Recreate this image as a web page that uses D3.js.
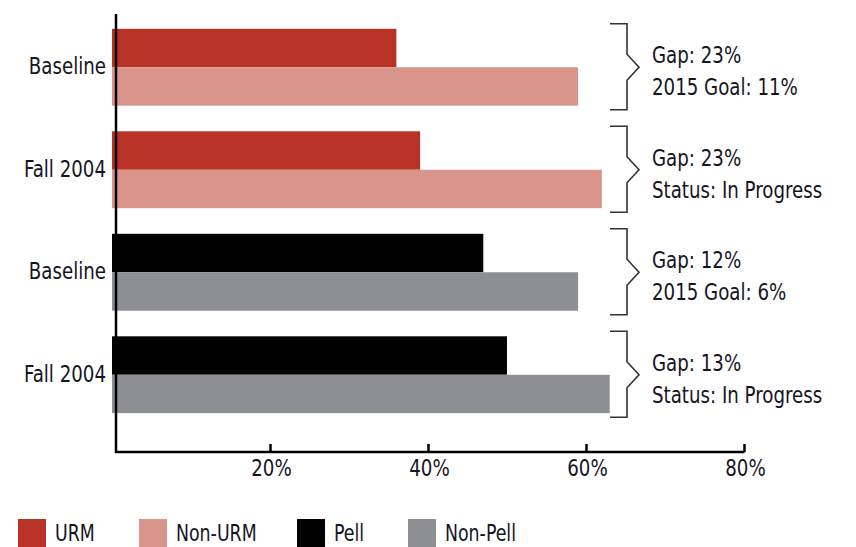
<!DOCTYPE html>
<html>
<head>
<meta charset="utf-8">
<script src="https://cdn.jsdelivr.net/npm/d3@7"></script>
<style>
  html, body { margin: 0; padding: 0; background: #fff; }
  svg text { font-family: "Liberation Sans Narrow", "Arial Narrow", "DejaVu Sans Condensed", sans-serif; fill: #15151f; }
</style>
</head>
<body>
<svg id="chart" width="856" height="547"></svg>
<script>
// ---- Data ----
const groupIds = ["g1", "g2", "g3", "g4"];
const groupLabels = ["Baseline", "Fall 2004", "Baseline", "Fall 2004"];
const topValues = [36, 39, 47, 50];      // URM, URM, Pell, Pell
const bottomValues = [59, 62, 59, 63];   // Non-URM, Non-URM, Non-Pell, Non-Pell
const topSeries = ["URM", "URM", "Pell", "Pell"];
const bottomSeries = ["Non-URM", "Non-URM", "Non-Pell", "Non-Pell"];
const gapLines = ["Gap: 23%", "Gap: 23%", "Gap: 12%", "Gap: 13%"];
const statusLines = ["2015 Goal: 11%", "Status: In Progress", "2015 Goal: 6%", "Status: In Progress"];
const tickValues = [20, 40, 60, 80];
const legendNames = ["URM", "Non-URM", "Pell", "Non-Pell"];
const legendColors = ["#b83226", "#d9958b", "#000000", "#8e8f93"];

// ---- Layout ----
const SX = 0.88; // horizontal condensing of text to mimic a condensed face
const svg = d3.select("#chart");
const color = d3.scaleOrdinal().domain(legendNames).range(legendColors);
const x = d3.scaleLinear().domain([0, 80]).range([112, 744]);
const y = d3.scaleBand().domain(groupIds).range([16, 426]).paddingInner(0.25).paddingOuter(0.125);
const bw = y.bandwidth();
const half = bw / 2;

const rows = groupIds.map((id, i) => ({
  id, label: groupLabels[i], top: topValues[i], bottom: bottomValues[i],
  topS: topSeries[i], bottomS: bottomSeries[i], l1: gapLines[i], l2: statusLines[i]
}));

// bars
const g = svg.append("g");
g.selectAll("rect.top").data(rows).join("rect")
  .attr("class", "top")
  .attr("x", x(0)).attr("y", d => y(d.id))
  .attr("width", d => x(d.top) - x(0)).attr("height", half)
  .attr("fill", d => color(d.topS));
g.selectAll("rect.bot").data(rows).join("rect")
  .attr("class", "bot")
  .attr("x", x(0)).attr("y", d => y(d.id) + half)
  .attr("width", d => x(d.bottom) - x(0)).attr("height", half)
  .attr("fill", d => color(d.bottomS));

// axes
const axisY = 452;
svg.append("line").attr("x1", 116).attr("x2", 116).attr("y1", 14).attr("y2", axisY + 1)
  .attr("stroke", "#000").attr("stroke-width", 2.5);
const xAxis = d3.axisBottom(x).tickValues(tickValues).tickSize(-8).tickFormat(d => d + "%");
const ax = svg.append("g").attr("transform", `translate(0,${axisY})`).call(xAxis)
  .attr("font-family", null).attr("font-size", null);
ax.select(".domain").remove();
ax.append("line").attr("x1", 115).attr("x2", x(80) + 0.5).attr("y1", 0).attr("y2", 0)
  .attr("stroke", "#000").attr("stroke-width", 2.5);
ax.selectAll(".tick line").attr("stroke", "#000").attr("stroke-width", 2.5);
ax.selectAll(".tick text")
  .attr("y", 0).attr("dy", 0)
  .attr("transform", `translate(1,24) scale(${SX},1)`)
  .attr("font-size", 23).attr("fill", "#15151f");

// category labels
svg.selectAll("text.cat").data(rows).join("text")
  .attr("class", "cat")
  .attr("transform", d => `translate(106,${y(d.id) + half + 7}) scale(${SX},1)`)
  .attr("text-anchor", "end").attr("font-size", 23)
  .text(d => d.label);

// brackets
const bx0 = 610, bx1 = 627, bxp = 639;
svg.selectAll("path.br").data(rows).join("path")
  .attr("class", "br")
  .attr("d", d => {
    const t = y(d.id) - 5, b = y(d.id) + bw + 4, m = y(d.id) + half;
    return `M${bx0},${t} H${bx1} V${m - 13} L${bxp},${m} L${bx1},${m + 13} V${b} H${bx0}`;
  })
  .attr("fill", "none").attr("stroke", "#333").attr("stroke-width", 1.6);

svg.selectAll("text.l1").data(rows).join("text")
  .attr("class", "l1")
  .attr("transform", d => `translate(652,${y(d.id) + half - 4}) scale(${SX},1)`)
  .attr("font-size", 23).text(d => d.l1);
svg.selectAll("text.l2").data(rows).join("text")
  .attr("class", "l2")
  .attr("transform", d => `translate(652,${y(d.id) + half + 28}) scale(${SX},1)`)
  .attr("font-size", 23).text(d => d.l2);

// legend
const legendX = [18, 139, 297, 408];
const lg = svg.selectAll("g.lg").data(legendNames).join("g")
  .attr("class", "lg")
  .attr("transform", (d, i) => `translate(${legendX[i]},519)`);
lg.append("rect").attr("width", 28).attr("height", 30).attr("fill", d => color(d));
lg.append("text").attr("transform", `translate(37,22) scale(0.84,1)`).attr("font-size", 23).text(d => d);
</script>
</body>
</html>
